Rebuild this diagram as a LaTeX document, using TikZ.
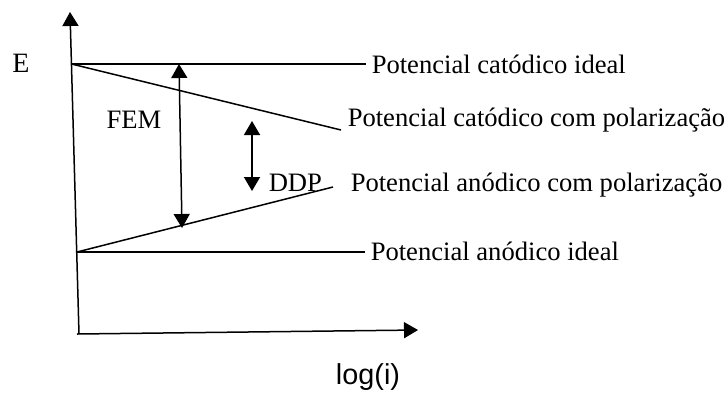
\documentclass[tikz,border=0pt]{standalone}
\usepackage{fontspec}
\setmainfont{Liberation Serif}
\newfontfamily\logfont{Liberation Sans}
\usetikzlibrary{arrows.meta, positioning}

\begin{document}
\begin{tikzpicture}[x=0.5pt, y=-0.5pt]
    % settings for this picture
    \tikzset{
      >={Triangle[length=7pt, width=8pt]},
      every path/.style={line width=0.75pt},
      every node/.style={font=\fontsize{13.3}{15}\selectfont},
      lbl/.style={anchor=west, inner sep=2.5pt},
    }
    \useasboundingbox (0,0) rectangle (727,392);

    % axes
    \coordinate (o) at (79,334);
    \coordinate (ytip) at (70,12);
    \coordinate (xtip) at (418,330);
    \draw[->] (o) -- (ytip);
    \draw[->] (77,334) -- (xtip);

    % points on the E axis
    \coordinate (ec) at (71.5,64);
    \coordinate (ea) at (77,252);
    \coordinate (cpend) at (341,130);
    \coordinate (apend) at (333,187);

    % labels
    \node (e) at (21,63) {\fontsize{14}{16}\selectfont E};
    \node[lbl] (lci) at (366,64) {Potencial catódico ideal};
    \node[lbl] (lcp) at (342,120) {Potencial catódico com polarização};
    \node[lbl] (lap) at (345,185) {Potencial anódico com polarização};
    \node[lbl] (lai) at (365,251) {Potencial anódico ideal};
    \node (fem) at (134,120) {FEM};
    \node[anchor=west, inner sep=0pt] (ddp) at (268,183) {DDP};
    \node (logi) at (368,377) {\logfont\fontsize{14.4}{16}\selectfont log(i)};

    % potential lines
    \draw (ec) -- (lci);
    \draw (ec) -- (cpend);
    \draw (ea) -- (apend);
    \draw (ea) -- (lai.west |- ea);

    % FEM and DDP
    \coordinate (femtop) at (179,64);
    \coordinate (fembot) at (182,228);
    \coordinate (ddptop) at (252,121);
    \coordinate (ddpbot) at (252,191);
    \draw[<->] (femtop) -- (fembot);
    \draw[<->] (ddptop) -- (ddpbot);

  \end{tikzpicture}
\end{document}
